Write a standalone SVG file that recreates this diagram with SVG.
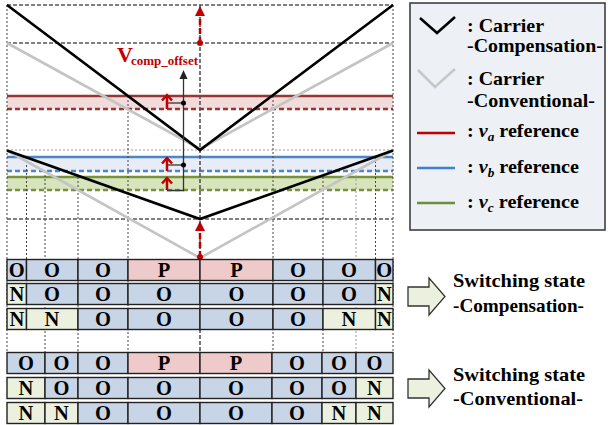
<svg xmlns="http://www.w3.org/2000/svg" width="608" height="425" viewBox="0 0 608 425">
  <style>
    .t { font-family: "Liberation Serif", "Times New Roman", serif; font-weight: bold; fill: #000; }
    .cell { stroke: #222; stroke-width: 1.4; }
    .o { fill: #c8d5e6; }
    .p { fill: #eecaca; }
    .n { fill: #ebf1de; }
    .lbl { font-size: 20.5px; text-anchor: middle; }
    .leg { font-size: 19px; }
    .grid { stroke: #444; stroke-width: 1; stroke-dasharray: 2 2; fill: none; }
    .gridl { stroke: #9a9a9a; stroke-width: 1; stroke-dasharray: 2 2; fill: none; }
    .hdash { stroke: #555; stroke-width: 1.6; stroke-dasharray: 4 2; fill: none; }
    .comp { stroke: #000; stroke-width: 2.6; fill: none; }
    .conv { stroke: #c4c4c4; stroke-width: 2.6; fill: none; }
    .redarr { stroke: #c00000; stroke-width: 2.5; fill: none; }
    .reddash { stroke: #c00000; stroke-width: 2.5; stroke-dasharray: 6 3; fill: none; }
    .link { stroke: #333; stroke-width: 1.3; fill: none; }
  </style>

  <!-- reference bands and lines -->
  <g id="references">
    <rect x="7" y="96" width="386" height="13" fill="#f2dcdb"/>
    <rect x="7" y="157" width="386" height="14" fill="#e8edf5"/>
    <rect x="7" y="177" width="386" height="13" fill="#d8e4bc"/>
    <line x1="7" y1="96" x2="393" y2="96" stroke="#953735" stroke-width="2.5"/>
    <line x1="7" y1="109" x2="393" y2="109" stroke="#953735" stroke-width="2.5" stroke-dasharray="5 3"/>
    <line x1="7" y1="157" x2="393" y2="157" stroke="#4a86c8" stroke-width="2.5"/>
    <line x1="7" y1="171" x2="393" y2="171" stroke="#4a86c8" stroke-width="2.5" stroke-dasharray="5 3"/>
    <line x1="7" y1="177" x2="393" y2="177" stroke="#76923c" stroke-width="2.5"/>
    <line x1="7" y1="190" x2="393" y2="190" stroke="#76923c" stroke-width="2.5" stroke-dasharray="5 3"/>
  </g>

  <!-- grid -->
  <g id="grid">
    <line class="hdash" x1="7" y1="5" x2="393" y2="5"/>
    <line class="hdash" x1="7" y1="43" x2="393" y2="43"/>
    <line class="gridl" x1="7" y1="150" x2="393" y2="150"/>
    <line class="hdash" x1="7" y1="219" x2="393" y2="219"/>
    <line class="grid" x1="7" y1="5" x2="7" y2="352"/>
    <line class="grid" x1="393" y1="5" x2="393" y2="352"/>
    <line class="grid" x1="26.5" y1="157" x2="26.5" y2="260"/>
    <line class="grid" x1="45" y1="171" x2="45" y2="352"/>
    <line class="grid" x1="78" y1="177" x2="78" y2="352"/>
    <line class="grid" x1="128" y1="96" x2="128" y2="352"/>
    <line class="hdash" x1="200" y1="5" x2="200" y2="352"/>
    <line class="grid" x1="273" y1="96" x2="273" y2="352"/>
    <line class="grid" x1="323" y1="177" x2="323" y2="352"/>
    <line class="gridl" x1="356" y1="171" x2="356" y2="352"/>
    <line class="grid" x1="375.5" y1="157" x2="375.5" y2="260"/>
  </g>

  <!-- carriers -->
  <g id="carriers">
    <polyline class="conv" points="7,43 200,149 393,43"/>
    <polyline class="conv" points="7,150.5 200,258 393,150.5"/>
    <polyline class="comp" points="7,5 200,150 393,5"/>
    <polyline class="comp" points="7,150.5 200,219 393,150.5"/>
  </g>

  <!-- offset arrows and annotation -->
  <g id="connectors">
    <line class="reddash" x1="200" y1="43" x2="200" y2="15"/>
    <polygon points="195,16 200,6 205,16" fill="#c00000"/>
    <circle cx="200" cy="43" r="3" fill="#c00000"/>
    <line class="reddash" x1="200" y1="257" x2="200" y2="230"/>
    <polygon points="195,231 200,221 205,231" fill="#c00000"/>
    <circle cx="200" cy="257" r="3" fill="#c00000"/>

    <polyline class="link" points="167,103 183.5,103"/>
    <polyline class="link" points="167,165 183.5,165"/>
    <polyline class="link" points="167,190.5 183.5,190.5 183.5,78"/>
    <polygon points="179.5,79 183.5,70 187.5,79" fill="#222"/>
    <circle cx="183.5" cy="103" r="2.5" fill="#000"/>
    <circle cx="183.5" cy="165" r="2.5" fill="#000"/>

    <line class="redarr" x1="167" y1="109" x2="167" y2="95.5"/>
    <polyline class="redarr" points="162,100.5 167,95 172,100.5"/>
    <line class="redarr" x1="167" y1="171" x2="167" y2="158.5"/>
    <polyline class="redarr" points="162,163.5 167,158 172,163.5"/>
    <line class="redarr" x1="167" y1="190" x2="167" y2="178.5"/>
    <polyline class="redarr" points="162,183.5 167,178 172,183.5"/>

    <text class="t" x="117" y="62" font-size="22" style="fill:#c00000">V</text>
    <text class="t" x="131" y="65" font-size="12.5" textLength="67" lengthAdjust="spacingAndGlyphs" style="fill:#c00000">comp_offset</text>
  </g>

  <!-- legend -->
  <g id="legend">
    <rect x="410" y="3" width="195" height="227" fill="#edf0f5" stroke="#333" stroke-width="1.5"/>
    <polyline points="420,18 437,33 455,17" stroke="#000" stroke-width="2.6" fill="none"/>
    <text class="t leg" x="467" y="32" textLength="77" lengthAdjust="spacingAndGlyphs">: Carrier</text>
    <text class="t leg" x="467" y="52" textLength="136" lengthAdjust="spacingAndGlyphs">-Compensation-</text>
    <polyline points="418,70 435,87 455,69" stroke="#c8c8c8" stroke-width="2.6" fill="none"/>
    <text class="t leg" x="467" y="85" textLength="77" lengthAdjust="spacingAndGlyphs">: Carrier</text>
    <text class="t leg" x="467" y="107" textLength="128" lengthAdjust="spacingAndGlyphs">-Conventional-</text>
    <line x1="417" y1="133" x2="455" y2="133" stroke="#c00000" stroke-width="2.5"/>
    <text class="t leg" x="467" y="137" textLength="112" lengthAdjust="spacingAndGlyphs">: <tspan font-style="italic">v</tspan><tspan font-style="italic" font-size="12.5" dy="4">a</tspan><tspan dy="-4"> reference</tspan></text>
    <line x1="417" y1="168" x2="455" y2="168" stroke="#3f7fd0" stroke-width="2.5"/>
    <text class="t leg" x="467" y="173" textLength="112" lengthAdjust="spacingAndGlyphs">: <tspan font-style="italic">v</tspan><tspan font-style="italic" font-size="12.5" dy="4">b</tspan><tspan dy="-4"> reference</tspan></text>
    <line x1="417" y1="203" x2="455" y2="203" stroke="#6b8e3a" stroke-width="2.5"/>
    <text class="t leg" x="467" y="208" textLength="112" lengthAdjust="spacingAndGlyphs">: <tspan font-style="italic">v</tspan><tspan font-style="italic" font-size="12.5" dy="4">c</tspan><tspan dy="-4"> reference</tspan></text>
  </g>

  <!-- switching states, compensation -->
  <g id="comp-a">
    <rect class="cell o" x="7" y="259.5" width="19.5" height="21"/>
    <rect class="cell o" x="26.5" y="259.5" width="51.5" height="21"/>
    <rect class="cell o" x="78" y="259.5" width="50" height="21"/>
    <rect class="cell p" x="128" y="259.5" width="72" height="21"/>
    <rect class="cell p" x="200" y="259.5" width="73" height="21"/>
    <rect class="cell o" x="273" y="259.5" width="50" height="21"/>
    <rect class="cell o" x="323" y="259.5" width="52.5" height="21"/>
    <rect class="cell o" x="375.5" y="259.5" width="17.5" height="21"/>
    <text class="t lbl" x="16.8" y="277">O</text>
    <text class="t lbl" x="52" y="277">O</text>
    <text class="t lbl" x="103" y="277">O</text>
    <text class="t lbl" x="164" y="277">P</text>
    <text class="t lbl" x="236.5" y="277">P</text>
    <text class="t lbl" x="298" y="277">O</text>
    <text class="t lbl" x="349" y="277">O</text>
    <text class="t lbl" x="384.3" y="277">O</text>
  </g>
  <g id="comp-b">
    <rect class="cell n" x="7" y="283.5" width="19.5" height="21"/>
    <rect class="cell o" x="26.5" y="283.5" width="51.5" height="21"/>
    <rect class="cell o" x="78" y="283.5" width="50" height="21"/>
    <rect class="cell o" x="128" y="283.5" width="72" height="21"/>
    <rect class="cell o" x="200" y="283.5" width="73" height="21"/>
    <rect class="cell o" x="273" y="283.5" width="50" height="21"/>
    <rect class="cell o" x="323" y="283.5" width="52.5" height="21"/>
    <rect class="cell n" x="375.5" y="283.5" width="17.5" height="21"/>
    <text class="t lbl" x="16.8" y="301">N</text>
    <text class="t lbl" x="52" y="301">O</text>
    <text class="t lbl" x="103" y="301">O</text>
    <text class="t lbl" x="164" y="301">O</text>
    <text class="t lbl" x="236.5" y="301">O</text>
    <text class="t lbl" x="298" y="301">O</text>
    <text class="t lbl" x="349" y="301">O</text>
    <text class="t lbl" x="384.3" y="301">N</text>
  </g>
  <g id="comp-c">
    <rect class="cell n" x="7" y="308.5" width="19.5" height="21"/>
    <rect class="cell n" x="26.5" y="308.5" width="51.5" height="21"/>
    <rect class="cell o" x="78" y="308.5" width="50" height="21"/>
    <rect class="cell o" x="128" y="308.5" width="72" height="21"/>
    <rect class="cell o" x="200" y="308.5" width="73" height="21"/>
    <rect class="cell o" x="273" y="308.5" width="50" height="21"/>
    <rect class="cell n" x="323" y="308.5" width="52.5" height="21"/>
    <rect class="cell n" x="375.5" y="308.5" width="17.5" height="21"/>
    <text class="t lbl" x="16.8" y="326">N</text>
    <text class="t lbl" x="52" y="326">N</text>
    <text class="t lbl" x="103" y="326">O</text>
    <text class="t lbl" x="164" y="326">O</text>
    <text class="t lbl" x="236.5" y="326">O</text>
    <text class="t lbl" x="298" y="326">O</text>
    <text class="t lbl" x="349" y="326">N</text>
    <text class="t lbl" x="384.3" y="326">N</text>
  </g>

  <!-- switching states, conventional -->
  <g id="conv-a">
    <rect class="cell o" x="7" y="352.5" width="38" height="21"/>
    <rect class="cell o" x="45" y="352.5" width="33" height="21"/>
    <rect class="cell o" x="78" y="352.5" width="50" height="21"/>
    <rect class="cell p" x="128" y="352.5" width="72" height="21"/>
    <rect class="cell p" x="200" y="352.5" width="72" height="21"/>
    <rect class="cell o" x="272" y="352.5" width="50" height="21"/>
    <rect class="cell o" x="322" y="352.5" width="34" height="21"/>
    <rect class="cell o" x="356" y="352.5" width="37" height="21"/>
    <text class="t lbl" x="26" y="370">O</text>
    <text class="t lbl" x="61.5" y="370">O</text>
    <text class="t lbl" x="103" y="370">O</text>
    <text class="t lbl" x="164" y="370">P</text>
    <text class="t lbl" x="236" y="370">P</text>
    <text class="t lbl" x="297" y="370">O</text>
    <text class="t lbl" x="339" y="370">O</text>
    <text class="t lbl" x="374.5" y="370">O</text>
  </g>
  <g id="conv-b">
    <rect class="cell n" x="7" y="377.5" width="38" height="21"/>
    <rect class="cell o" x="45" y="377.5" width="33" height="21"/>
    <rect class="cell o" x="78" y="377.5" width="50" height="21"/>
    <rect class="cell o" x="128" y="377.5" width="72" height="21"/>
    <rect class="cell o" x="200" y="377.5" width="72" height="21"/>
    <rect class="cell o" x="272" y="377.5" width="50" height="21"/>
    <rect class="cell o" x="322" y="377.5" width="34" height="21"/>
    <rect class="cell n" x="356" y="377.5" width="37" height="21"/>
    <text class="t lbl" x="26" y="395">N</text>
    <text class="t lbl" x="61.5" y="395">O</text>
    <text class="t lbl" x="103" y="395">O</text>
    <text class="t lbl" x="164" y="395">O</text>
    <text class="t lbl" x="236" y="395">O</text>
    <text class="t lbl" x="297" y="395">O</text>
    <text class="t lbl" x="339" y="395">O</text>
    <text class="t lbl" x="374.5" y="395">N</text>
  </g>
  <g id="conv-c">
    <rect class="cell n" x="7" y="402.5" width="38" height="21"/>
    <rect class="cell n" x="45" y="402.5" width="33" height="21"/>
    <rect class="cell o" x="78" y="402.5" width="50" height="21"/>
    <rect class="cell o" x="128" y="402.5" width="72" height="21"/>
    <rect class="cell o" x="200" y="402.5" width="72" height="21"/>
    <rect class="cell o" x="272" y="402.5" width="50" height="21"/>
    <rect class="cell n" x="322" y="402.5" width="34" height="21"/>
    <rect class="cell n" x="356" y="402.5" width="37" height="21"/>
    <text class="t lbl" x="26" y="420">N</text>
    <text class="t lbl" x="61.5" y="420">N</text>
    <text class="t lbl" x="103" y="420">O</text>
    <text class="t lbl" x="164" y="420">O</text>
    <text class="t lbl" x="236" y="420">O</text>
    <text class="t lbl" x="297" y="420">O</text>
    <text class="t lbl" x="339" y="420">N</text>
    <text class="t lbl" x="374.5" y="420">N</text>
  </g>

  <!-- row captions -->
  <g id="caption-comp">
    <polygon points="408,287 429,287 429,278 445,296.5 429,315 429,306 408,306" fill="#ebf1de" stroke="#333" stroke-width="1.3"/>
    <text class="t leg" x="453" y="287" textLength="132" lengthAdjust="spacingAndGlyphs">Switching state</text>
    <text class="t leg" x="453" y="312" textLength="131" lengthAdjust="spacingAndGlyphs">-Compensation-</text>
  </g>
  <g id="caption-conv">
    <polygon points="408,379 429,379 429,370 445,388.5 429,407 429,398 408,398" fill="#ebf1de" stroke="#333" stroke-width="1.3"/>
    <text class="t leg" x="453" y="381" textLength="132" lengthAdjust="spacingAndGlyphs">Switching state</text>
    <text class="t leg" x="453" y="405" textLength="130" lengthAdjust="spacingAndGlyphs">-Conventional-</text>
  </g>
</svg>
